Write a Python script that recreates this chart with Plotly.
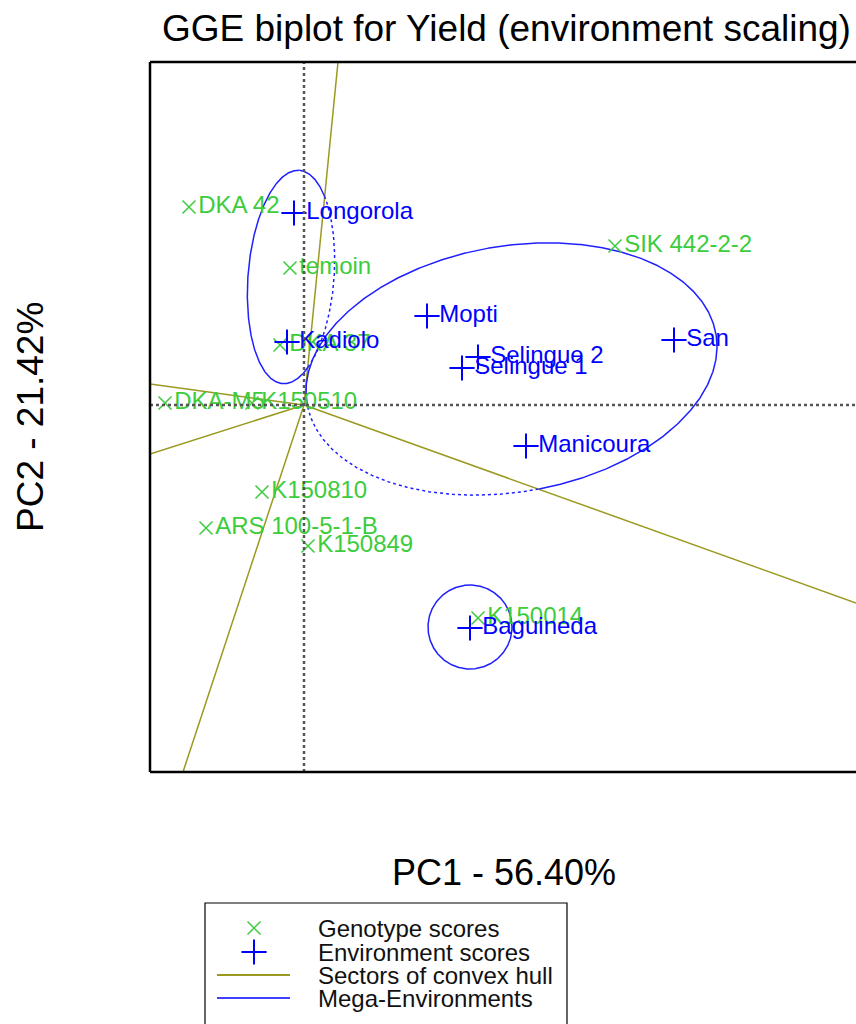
import numpy as np
import plotly.graph_objects as go

# ---------------- data ----------------
gen_names = ["DKA 42", "temoin", "SIK 442-2-2", "DKA 37", "DKA-M5", "K150510",
             "K150810", "ARS 100-5-1-B", "K150849", "K150014"]
gen_x = [-1.15, -0.14, 3.11, -0.24, -1.39, -0.52, -0.42, -0.98, 0.04, 1.74]
gen_y = [1.98, 1.37, 1.59, 0.60, 0.02, 0.02, -0.87, -1.23, -1.41, -2.13]

env_names = ["Longorola", "Kadiolo", "Mopti", "Selingue 2", "Selingue 1",
             "San", "Manicoura", "Baguineda"]
env_x = [-0.10, -0.17, 1.23, 1.74, 1.58, 3.70, 2.22, 1.66]
env_y = [1.92, 0.63, 0.89, 0.48, 0.37, 0.65, -0.41, -2.23]

# sector rays of the convex hull (end points at the plot border)
sector_x = [0.34, -1.54, -1.54, -1.21, 5.52]
sector_y = [3.43, 0.21, -0.49, -3.67, -1.98]

# mega-environment ellipses: centre, semi-axes, rotation (deg), sector rays (ccw from, to)
ell_cx = [-0.13, 2.075, 1.66]
ell_cy = [1.28, 0.36, -2.22]
ell_a = [1.07, 2.074, 0.42]
ell_b = [0.43, 1.23, 0.42]
ell_rot = [85.5, 9.65, 0.0]
ell_sector = [(0, 1), (4, 0), (3, 4)]

x_range = [-1.54, 5.52]
y_range = [-3.67, 3.43]

title_text = "GGE biplot for Yield (environment scaling)"
xlab = "PC1 - 56.40%"
ylab = "PC2 - 21.42%"
legend_labels = ["Genotype scores", "Environment scores",
                 "Sectors of convex hull", "Mega-Environments"]

# ---------------- styling ----------------
FW, FH = 856, 1024
PL, PR, PT, PB = 150, 856, 62, 772
FONT = "Liberation Sans, Arial, Helvetica, sans-serif"
GREEN = "#3ccc3c"
BLUE = "#0000ff"
ELL_BLUE = "#2020ff"
OLIVE = "#9a9a20"


def px(x):
    return x / FW


def py(y):
    return 1 - y / FH


fig = go.Figure()

# sector lines
sx, sy = [], []
for ex, ey in zip(sector_x, sector_y):
    sx += [0, ex, None]
    sy += [0, ey, None]
fig.add_trace(go.Scatter(x=sx, y=sy, mode="lines",
                         line=dict(color=OLIVE, width=1.5),
                         hoverinfo="skip", showlegend=False))


# ellipses, solid inside their sector, dotted outside
def ang(x, y):
    return np.degrees(np.arctan2(y, x)) % 360


t = np.linspace(0, 2 * np.pi, 721)
solid_x, solid_y, dot_x, dot_y = [], [], [], []
for cx, cy, a, b, rot, (s0, s1) in zip(ell_cx, ell_cy, ell_a, ell_b, ell_rot, ell_sector):
    r = np.radians(rot)
    ex = cx + a * np.cos(t) * np.cos(r) - b * np.sin(t) * np.sin(r)
    ey = cy + a * np.cos(t) * np.sin(r) + b * np.sin(t) * np.cos(r)
    a0 = ang(sector_x[s0], sector_y[s0])
    a1 = ang(sector_x[s1], sector_y[s1])
    span = (a1 - a0) % 360
    inside = ((ang(ex, ey) - a0) % 360) <= span
    for i in range(len(t) - 1):
        seg = (solid_x, solid_y) if inside[i] else (dot_x, dot_y)
        seg[0].extend([ex[i], ex[i + 1], None])
        seg[1].extend([ey[i], ey[i + 1], None])


def merge(xs, ys):
    ox, oy = [], []
    last = None
    for i in range(0, len(xs), 3):
        p0 = (xs[i], ys[i])
        p1 = (xs[i + 1], ys[i + 1])
        if last is not None and abs(last[0] - p0[0]) < 1e-12 and abs(last[1] - p0[1]) < 1e-12:
            ox.append(p1[0]); oy.append(p1[1])
        else:
            if ox:
                ox.append(None); oy.append(None)
            ox += [p0[0], p1[0]]; oy += [p0[1], p1[1]]
        last = p1
    return ox, oy


sxm, sym = merge(solid_x, solid_y)
dxm, dym = merge(dot_x, dot_y)
fig.add_trace(go.Scatter(x=sxm, y=sym, mode="lines",
                         line=dict(color=ELL_BLUE, width=1.5),
                         hoverinfo="skip", showlegend=False))
fig.add_trace(go.Scatter(x=dxm, y=dym, mode="lines",
                         line=dict(color=ELL_BLUE, width=1.5, dash="dot"),
                         hoverinfo="skip", showlegend=False))

# genotype scores
fig.add_trace(go.Scatter(x=gen_x, y=gen_y, mode="markers+text", text=gen_names,
                         textposition="middle right",
                         textfont=dict(family=FONT, size=24, color=GREEN),
                         marker=dict(symbol="x-thin", size=13,
                                     line=dict(color=GREEN, width=1.5)),
                         name="Genotype scores", showlegend=False))
# environment scores
fig.add_trace(go.Scatter(x=env_x, y=env_y, mode="markers+text", text=env_names,
                         textposition="middle right",
                         textfont=dict(family=FONT, size=24, color=BLUE),
                         marker=dict(symbol="cross-thin", size=18,
                                     line=dict(color=BLUE, width=2)),
                         name="Environment scores", showlegend=False))

# ---------------- legend drawn on a separate full-page pixel axis ----------------
leg_sym_x = 254
leg_line_x = [217, 290]
leg_rows = [928, 952, 975, 998]
fig.add_trace(go.Scatter(x=[leg_sym_x], y=[leg_rows[0]], xaxis="x2", yaxis="y2",
                         mode="markers", hoverinfo="skip", showlegend=False,
                         marker=dict(symbol="x-thin", size=13,
                                     line=dict(color=GREEN, width=1.5))))
fig.add_trace(go.Scatter(x=[leg_sym_x], y=[leg_rows[1]], xaxis="x2", yaxis="y2",
                         mode="markers", hoverinfo="skip", showlegend=False,
                         marker=dict(symbol="cross-thin", size=18,
                                     line=dict(color=BLUE, width=2))))
fig.add_trace(go.Scatter(x=leg_line_x, y=[leg_rows[2]] * 2, xaxis="x2", yaxis="y2",
                         mode="lines", hoverinfo="skip", showlegend=False,
                         line=dict(color=OLIVE, width=2)))
fig.add_trace(go.Scatter(x=leg_line_x, y=[leg_rows[3]] * 2, xaxis="x2", yaxis="y2",
                         mode="lines", hoverinfo="skip", showlegend=False,
                         line=dict(color="#4040ff", width=2)))

annotations = []
for lab, yy in zip(legend_labels, leg_rows):
    annotations.append(dict(x=px(316), y=py(yy), xref="paper", yref="paper",
                            text=lab, showarrow=False, xanchor="left", yanchor="middle",
                            font=dict(family=FONT, size=24, color="#111111")))
annotations.append(dict(x=px(506), y=py(28), xref="paper", yref="paper", text=title_text,
                        showarrow=False, xanchor="center", yanchor="middle",
                        font=dict(family=FONT, size=37, color="black")))
annotations.append(dict(x=px(504), y=py(872), xref="paper", yref="paper", text=xlab,
                        showarrow=False, xanchor="center", yanchor="middle",
                        font=dict(family=FONT, size=36, color="black")))
annotations.append(dict(x=px(30), y=py(417), xref="paper", yref="paper", text=ylab,
                        showarrow=False, xanchor="center", yanchor="middle", textangle=-90,
                        font=dict(family=FONT, size=37, color="black")))

shapes = [
    # dotted axes through the origin
    dict(type="line", xref="x", yref="y domain", x0=0, x1=0, y0=0, y1=1,
         line=dict(color="#555555", width=2.5, dash="dot")),
    dict(type="line", xref="x domain", yref="y", x0=0, x1=1, y0=0, y1=0,
         line=dict(color="#555555", width=2.5, dash="dot")),
    # frame (right side is outside the picture)
    dict(type="line", xref="paper", yref="paper", x0=px(PL), x1=px(PL), y0=py(PT), y1=py(PB),
         line=dict(color="black", width=2.5)),
    dict(type="line", xref="paper", yref="paper", x0=px(PL), x1=1.01, y0=py(PT), y1=py(PT),
         line=dict(color="black", width=2.5)),
    dict(type="line", xref="paper", yref="paper", x0=px(PL), x1=1.01, y0=py(PB), y1=py(PB),
         line=dict(color="black", width=2.5)),
    # legend box
    dict(type="rect", xref="paper", yref="paper", x0=px(205), x1=px(567), y0=py(1034), y1=py(903),
         line=dict(color="black", width=1.2), fillcolor="rgba(0,0,0,0)"),
]

fig.update_layout(
    width=FW, height=FH,
    margin=dict(l=0, r=0, t=0, b=0),
    paper_bgcolor="white", plot_bgcolor="rgba(0,0,0,0)",
    showlegend=False,
    xaxis=dict(domain=[px(PL), px(PR)], range=x_range, showgrid=False, zeroline=False,
               showticklabels=False, ticks="", showline=False),
    yaxis=dict(domain=[py(PB), py(PT)], range=y_range, showgrid=False, zeroline=False,
               showticklabels=False, ticks="", showline=False),
    xaxis2=dict(domain=[0, 1], range=[0, FW], visible=False, anchor="y2"),
    yaxis2=dict(domain=[0, 1], range=[FH, 0], visible=False, anchor="x2"),
    annotations=annotations,
    shapes=shapes,
)

fig.write_html("out.html", config={"displayModeBar": False},
               post_script="document.body.style.margin='0px';document.body.style.padding='0px';")
